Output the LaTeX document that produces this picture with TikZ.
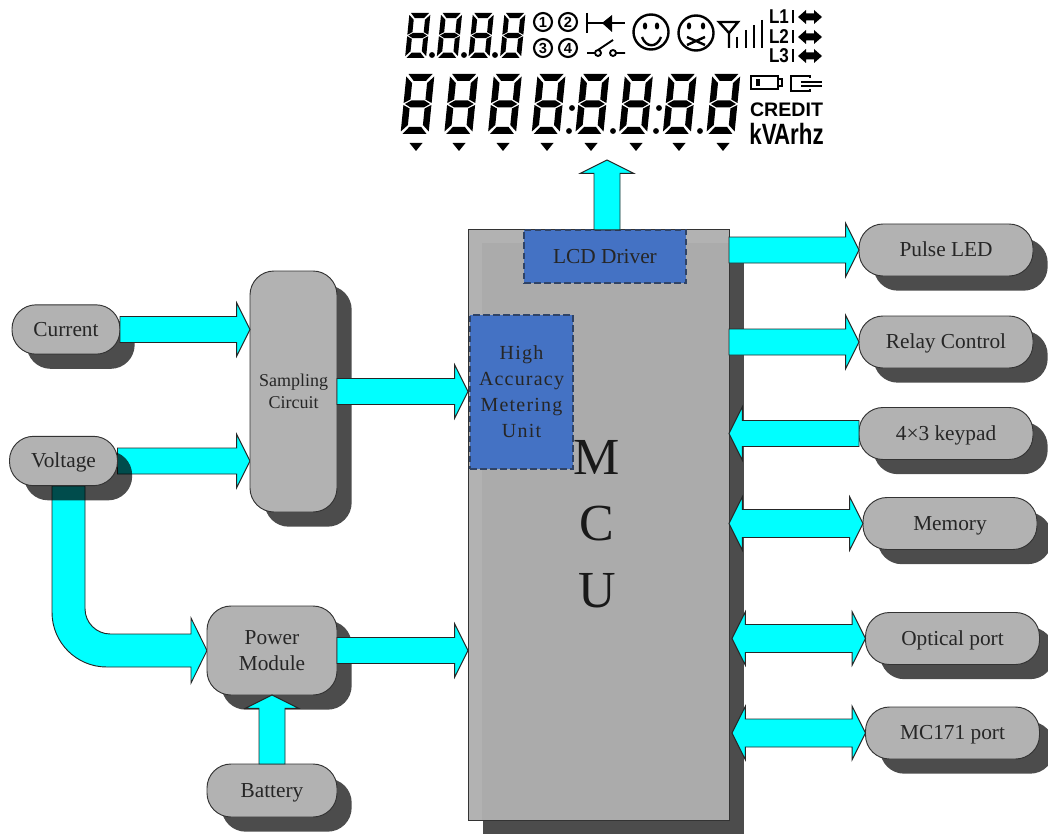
\documentclass[tikz,border=0pt]{standalone}
\usepackage{fontspec}
\setmainfont{Liberation Serif}
\newfontfamily\lcdfont{Liberation Sans}
\newfontfamily\meterfont[LetterSpace=6]{Liberation Serif}
\usetikzlibrary{calc,shadows,backgrounds}
\definecolor{boxgray}{HTML}{B2B2B2}
\definecolor{mcuinner}{HTML}{ABABAB}
\definecolor{unitblue}{HTML}{4472C4}
\definecolor{unitdash}{HTML}{2F4366}
\definecolor{flowcyan}{HTML}{00FFFF}
\tikzset{
  flowline/.style={draw=black!85, fill=flowcyan, line width=0.7pt, line join=miter},
  blockbox/.style={draw=black!80, fill=boxgray, rounded corners=18pt, line width=0.7pt, outer sep=0pt, inner sep=0pt,
    text=black!85, align=center, font=\fontsize{16}{19}\selectfont,
    drop shadow={shadow xshift=11pt, shadow yshift=-11pt, fill=black, opacity=0.7}},
  portbox/.style={blockbox, minimum width=130.5pt, minimum height=39pt, text height=14pt, text depth=4pt},
  inputbox/.style={blockbox, minimum width=81pt, minimum height=37pt, text height=14pt, text depth=4pt},
  unitbox/.style={draw=unitdash, fill=unitblue, dash pattern=on 5pt off 2.5pt, line width=1.1pt, outer sep=0pt, inner sep=0pt,
    text=black!85, align=center},
  lcdicon/.style={draw=black, line width=1.8pt},
}
% block arrow from #1 to #2
\newcommand{\flowarrow}[2]{%
  \coordinate (fa) at (#1);
  \coordinate (fb) at (#2);
  \coordinate (fn) at ($(fb)!10pt!(fa)$);
  \draw[flowline] ($(fa)!9.75pt!90:(fb)$) -- ($(fn)!9.75pt!90:(fb)$) -- ($(fn)!20pt!90:(fb)$) -- (fb)
    -- ($(fn)!20pt!-90:(fb)$) -- ($(fn)!9.75pt!-90:(fb)$) -- ($(fa)!9.75pt!-90:(fb)$) -- cycle;
}
% same, with a head on both ends
\newcommand{\flowarrowboth}[2]{%
  \coordinate (fa) at (#1);
  \coordinate (fb) at (#2);
  \coordinate (fn) at ($(fb)!10pt!(fa)$);
  \coordinate (fm) at ($(fa)!10pt!(fb)$);
  \draw[flowline] (fa) -- ($(fm)!20pt!-90:(fb)$) -- ($(fm)!10.5pt!-90:(fb)$) -- ($(fn)!10.5pt!-90:(fb)$) -- ($(fn)!20pt!-90:(fb)$)
    -- (fb) -- ($(fn)!20pt!90:(fb)$) -- ($(fn)!10.5pt!90:(fb)$) -- ($(fm)!10.5pt!90:(fb)$) -- ($(fm)!20pt!90:(fb)$) -- cycle;
}
% seven segment digit: x, y, scale
\newcommand{\segdigit}[3]{%
  \begin{scope}[shift={(#1,#2)},xslant=0.1,scale=#3]
    \fill[black] (2,0) -- (26,0) -- (20,7) -- (8,7) -- cycle
      (0,2.5) -- (6.5,9) -- (6.5,25.5) -- (0,29) -- cycle
      (28,2.5) -- (21.5,9) -- (21.5,25.5) -- (28,29) -- cycle
      (1.5,30) -- (7.5,26.5) -- (20.5,26.5) -- (26.5,30) -- (20.5,33.5) -- (7.5,33.5) -- cycle
      (0,31) -- (6.5,34.5) -- (6.5,51) -- (0,57.5) -- cycle
      (28,31) -- (21.5,34.5) -- (21.5,51) -- (28,57.5) -- cycle
      (8,53) -- (20,53) -- (26,60) -- (2,60) -- cycle;
  \end{scope}
}
\begin{document}
\begin{tikzpicture}[x=0.75pt,y=-0.75pt]
\useasboundingbox (0,0) rectangle (1048,834);
% MCU and its units
\node[blockbox, rounded corners=0pt, minimum width=195.75pt, minimum height=443.25pt,
  path picture={\fill[mcuinner] ([shift={(14,14)}]path picture bounding box.north west) rectangle (path picture bounding box.south east);}]
  (mcu) at (598.5,524.5) {};
\node[unitbox, minimum width=121.5pt, minimum height=40pt, font=\fontsize{16}{19}\selectfont] (lcd) at (605,256.5) {LCD Driver};
\node[unitbox, minimum width=77pt, minimum height=115.5pt, font=\meterfont\fontsize{15}{19.5}\selectfont] (metering) at (521.5,392) {High\\Accuracy\\Metering\\Unit};
\node[align=center, text=black!90, font=\fontsize{39}{50}\selectfont] (mculabel) at (597,524) {M\\C\\U};
% left side blocks
\node[inputbox] (current) at (66,329.5) {Current};
\node[inputbox] (voltage) at (63.5,461) {Voltage};
\node[blockbox, minimum width=65.25pt, minimum height=180.75pt, font=\fontsize{13.5}{16.5}\selectfont] (sampling) at (293.5,391.5) {Sampling\\Circuit};
\node[blockbox, minimum width=97.5pt, minimum height=66.75pt] (power) at (272,650.5) {Power\\Module};
\node[blockbox, minimum width=97.5pt, minimum height=39.75pt, text height=14pt, text depth=4pt] (battery) at (272,790.5) {Battery};
% right side blocks
\node[portbox] (pulse) at (946,250) {Pulse LED};
\node[portbox] (relay) at (946,342) {Relay Control};
\node[portbox] (keypad) at (946,433.5) {4×3 keypad};
\node[portbox] (memory) at (950,523.5) {Memory};
\node[portbox] (optical) at (952.5,638.5) {Optical port};
\node[portbox] (mcport) at (952.5,733) {MC171 port};
% arrows leaving Voltage go under its shadow
\begin{scope}[on background layer]
  \coordinate (vdrop) at (68.5,486);
  \flowarrow{voltage.east}{sampling.west |- voltage.east}
  \draw[flowline] ($(vdrop)+(-16.5,0)$) [rounded corners=41pt] -- (52,667) [rounded corners=0pt] -- (191,667) -- (191,683) -- (power.west)
    -- (191,618) -- (191,634) [rounded corners=19pt] -- (85,634) [rounded corners=0pt] -- ($(vdrop)+(16.5,0)$) -- cycle;
\end{scope}
% other arrows
\flowarrow{current.east}{sampling.west |- current.east}
\flowarrow{sampling.east}{mcu.west |- sampling.east}
\flowarrow{power.east}{mcu.west |- power.east}
\flowarrow{battery.north}{power.south}
\coordinate (lcdtip) at (607,160);
\flowarrow{lcdtip |- lcd.north}{lcdtip}
\foreach \n in {pulse,relay} {
  \flowarrow{mcu.east |- \n.west}{\n.west}
}
\flowarrow{keypad.west}{mcu.east |- keypad.west}
\foreach \n/\d in {memory/0,optical/3,mcport/3} {
  \flowarrowboth{$(mcu.east |- \n.west)+(\d,0)$}{\n.west}
}
% LCD digits
\foreach \x in {409.5,441.2,472.9,504.5} {
  \segdigit{\x}{13}{0.75}
}
\foreach \x in {406.5,450.2,493.9,537.6,581.3,625,668.7,712.4} {
  \segdigit{\x}{74}{1}
}
\foreach \x in {432,464,495} {
  \fill (\x,55) circle (2.2pt);
}
\foreach \x in {569,613,656,700} {
  \fill (\x,131) circle (2.2pt);
}
\foreach \x in {572,659} {
  \fill (\x,108) circle (2.2pt);
}
\foreach \x in {416,459,503,547,591,636,679,723} {
  \fill (\x-6.5,143) -- (\x+6.5,143) -- (\x,151) -- cycle;
}
% numbered circles
\foreach \x/\y/\l in {543/22/1,568/22/2,543/48/3,568/48/4} {
  \node[circle, draw, line width=1.6pt, minimum size=13.5pt, inner sep=0pt, font=\lcdfont\bfseries\fontsize{11}{11}\selectfont] (num\l) at (\x,\y) {\l};
}
% diode and switch
\draw[lcdicon] (587,13) -- (587,33) (587,23) -- (625,23);
\fill (602,23) -- (612,15) -- (612,32) -- cycle;
\draw[lcdicon, line width=1.4pt] (587,53) -- (595,53) (598,53) circle (3) (613,53) circle (3) (616,53) -- (625,53) (598,50) -- (613,40);
% faces
\draw[lcdicon] (651,32) circle (17.5);
\fill (645,26) ellipse (2.2 and 3.5) (657,26) ellipse (2.2 and 3.5);
\draw[lcdicon] (642,37) .. controls (646,48) and (657,48) .. (661,37);
\draw[lcdicon] (696,33) circle (17.5);
\fill (689,26) ellipse (2.2 and 3.5) (703,26) ellipse (2.2 and 3.5);
\draw[lcdicon] (687,37) -- (705,45) (687,45) -- (705,37);
% antenna and signal bars
\draw[lcdicon] (719,22) -- (738,22) -- (729,33) -- cycle (729,33) -- (729,48);
\draw[lcdicon, line width=2.2pt] (737,37) -- (737,48) (746,30) -- (746,48) (754,25) -- (754,48) (762,20) -- (762,48);
% phase marks
\foreach \y/\l in {17/L1,37/L2,56/L3} {
  \node[inner sep=0pt, font=\lcdfont\bfseries\fontsize{15}{15}\selectfont] (phase\l) at (779,\y) {\scalebox{0.85}[1]{\l}};
  \draw[lcdicon, line width=1.3pt] (793,\y-6.5) -- (793,\y+6.5);
  \fill (798,\y) -- (806,\y-7) -- (806,\y-3.5) -- (814,\y-3.5) -- (814,\y-7) -- (822,\y) -- (814,\y+7) -- (814,\y+3.5) -- (806,\y+3.5) -- (806,\y+7) -- cycle;
}
% battery and plug
\draw[lcdicon, line width=1.3pt] (751,76) rectangle (778,89) (778,79) -- (782,79) -- (782,86) -- (778,86);
\fill (756,79) rectangle (760,86);
\draw[lcdicon, line width=1.3pt] (810,78) -- (810,76) -- (791,76) -- (791,91) -- (810,91) -- (810,89) (801,82) -- (822,82) (801,86) -- (822,86);
\node[inner sep=0pt, font=\lcdfont\bfseries\fontsize{14.7}{15}\selectfont] (credit) at (786.5,109.5) {CREDIT};
\node[inner sep=0pt, font=\lcdfont\bfseries\fontsize{22}{22}\selectfont] (units) at (786.5,134) {\scalebox{0.76}[1]{kV\kern-2.5pt Arhz}};
\end{tikzpicture}
\end{document}
